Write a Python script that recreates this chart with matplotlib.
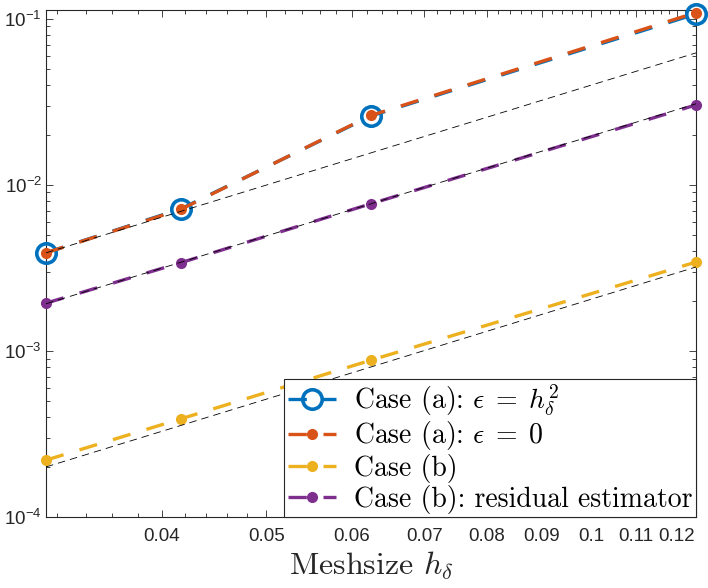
import numpy as np
import matplotlib
matplotlib.use("Agg")
import matplotlib.pyplot as plt
import matplotlib.ticker as mtick

plt.rcParams["font.family"] = ["Liberation Sans", "DejaVu Sans"]
plt.rcParams["mathtext.fontset"] = "dejavusans"

# ── Data ──────────────────────────────────────────────────────────────────────
h = [1 / 32, 1 / 24, 1 / 16, 1 / 8]
err_a_eps_h2 = [0.0039, 0.00717, 0.0260, 0.107]
err_a_eps_0 = [0.0039, 0.00712, 0.0262, 0.109]
err_b = [0.00022, 0.00039, 0.00088, 0.00343]
err_b_resid = [0.00194, 0.00340, 0.00770, 0.0303]

# reference slope-2 lines: C * h^2
ref_coeffs = [3.99, 1.97, 0.205]

labels = [
    r"Case (a): $\epsilon\;=\;h_\delta^2$",
    r"Case (a): $\epsilon\;=\;0$",
    r"Case (b)",
    r"Case (b): residual estimator",
]

BLUE, ORANGE, YELLOW, PURPLE = "#0072BD", "#D95319", "#EDB120", "#7E2F8E"

# ── Chart ─────────────────────────────────────────────────────────────────────
fig = plt.figure(figsize=(7.08, 5.88), dpi=100)
ax = fig.add_axes([46 / 708, 1 - 517 / 588, 650 / 708, 507 / 588])

dash = (5.5, 5.0)
lw = 2.4
ax.plot(h, err_a_eps_h2, color=BLUE, lw=lw, dashes=dash, marker="o", ms=14,
        mfc="none", mew=2.6, label=labels[0], clip_on=False, zorder=3)
ax.plot(h, err_a_eps_0, color=ORANGE, lw=lw, dashes=dash, marker="o", ms=7,
        label=labels[1], clip_on=False, zorder=3)
ax.plot(h, err_b, color=YELLOW, lw=lw, dashes=dash, marker="o", ms=7,
        label=labels[2], clip_on=False, zorder=3)
ax.plot(h, err_b_resid, color=PURPLE, lw=lw, dashes=dash, marker="o", ms=7,
        label=labels[3], clip_on=False, zorder=3)

hh = np.array([h[0], h[-1]])
for c in ref_coeffs:
    ax.plot(hh, c * hh ** 2, color="black", lw=0.6, dashes=(9, 6), zorder=4)

ax.set_xscale("log")
ax.set_yscale("log")
ax.set_xlim(1 / 32, 1 / 8)
ax.set_ylim(1e-4, 0.113)

xt = [0.04, 0.05, 0.06, 0.07, 0.08, 0.09, 0.1, 0.11, 0.12]
ax.xaxis.set_major_locator(mtick.FixedLocator(xt))
ax.xaxis.set_major_formatter(mtick.FixedFormatter(["0.04", "0.05", "0.06", "0.07", "0.08",
                                                   "0.09", "0.1", "0.11", "0.12"]))
ax.xaxis.set_minor_locator(mtick.FixedLocator(np.arange(0.032, 0.125, 0.002)))
ax.xaxis.set_minor_formatter(mtick.NullFormatter())

ax.yaxis.set_major_locator(mtick.FixedLocator([1e-4, 1e-3, 1e-2, 1e-1]))
ax.yaxis.set_major_formatter(mtick.FixedFormatter(
    [r"$\mathdefault{10^{-4}}$", r"$\mathdefault{10^{-3}}$",
     r"$\mathdefault{10^{-2}}$", r"$\mathdefault{10^{-1}}$"]))
ax.yaxis.set_minor_locator(mtick.LogLocator(base=10, subs=np.arange(2, 10), numticks=20))
ax.yaxis.set_minor_formatter(mtick.NullFormatter())

ax.tick_params(which="both", direction="in", top=True, right=True, width=0.6,
               colors="#262626")
ax.tick_params(which="major", length=5, labelsize=13.5, labelcolor="#262626")
ax.tick_params(which="minor", length=2.8)
ax.tick_params(axis="x", pad=8)
ax.tick_params(axis="y", pad=3)
for s in ax.spines.values():
    s.set_linewidth(0.8)
    s.set_color("#262626")

xl = ax.set_xlabel(r"Meshsize $h_\delta$", fontsize=23, family="cmr10",
                   color="#262626", labelpad=3)
xl.set_math_fontfamily("cm")

leg = ax.legend(loc="lower right", prop={"family": "cmr10", "size": 20},
                fancybox=False, edgecolor="#262626", framealpha=1, borderaxespad=0,
                handlelength=1.75, handletextpad=0.65, labelspacing=0.06,
                borderpad=0.12, numpoints=1)
leg.get_frame().set_linewidth(0.8)
leg.set_zorder(5)
for t in leg.get_texts():
    t.set_math_fontfamily("cm")

plt.savefig("out.png", dpi=100)
plt.close()
